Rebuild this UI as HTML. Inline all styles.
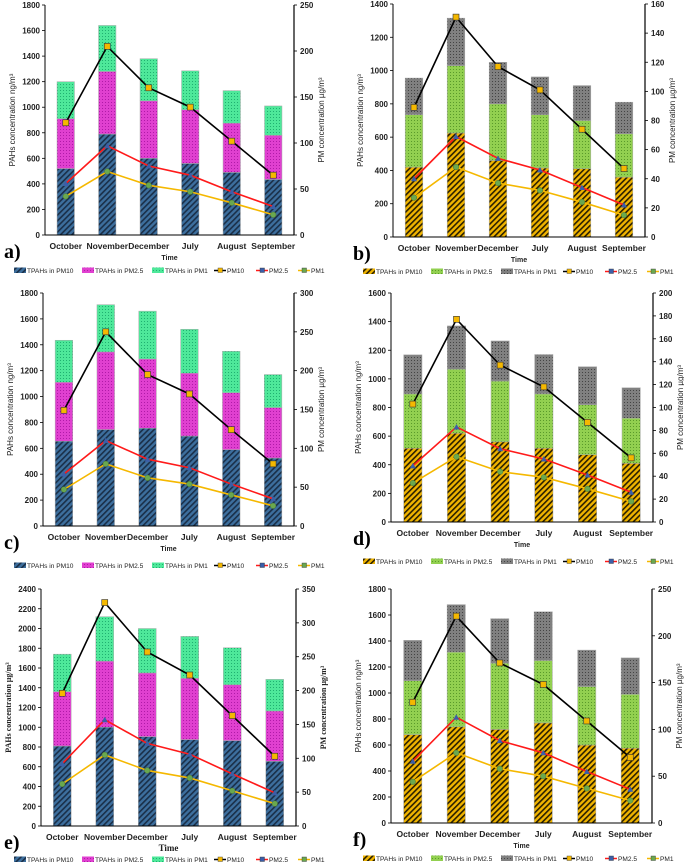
<!DOCTYPE html>
<html><head><meta charset="utf-8"><style>
html,body{margin:0;padding:0;background:#fff;}
svg{display:block;font-family:"Liberation Sans",sans-serif;}
</style></head><body>
<svg id="fig" width="684" height="865" viewBox="0 0 684 865" xmlns="http://www.w3.org/2000/svg">
<defs>
<pattern id="pBlue" patternUnits="userSpaceOnUse" width="4" height="4" patternTransform="rotate(45)"><rect width="4" height="4" fill="#3d6f9e"/><rect width="1.6" height="4" fill="#1a2f48"/></pattern>
<pattern id="pMag" patternUnits="userSpaceOnUse" width="3" height="3"><rect width="3" height="3" fill="#e040d0"/><rect width="1" height="1" fill="#b01aa8"/></pattern>
<pattern id="pTeal" patternUnits="userSpaceOnUse" width="3" height="3"><rect width="3" height="3" fill="#4ee89a"/><rect width="1" height="1" fill="#1fb070"/></pattern>
<pattern id="pOrange" patternUnits="userSpaceOnUse" width="4" height="4" patternTransform="rotate(45)"><rect width="4" height="4" fill="#f0b400"/><rect width="1.6" height="4" fill="#2a2000"/></pattern>
<pattern id="pLime" patternUnits="userSpaceOnUse" width="3" height="3"><rect width="3" height="3" fill="#92d050"/><rect width="1" height="1" fill="#5a9a2a"/></pattern>
<pattern id="pGray" patternUnits="userSpaceOnUse" width="3" height="3"><rect width="3" height="3" fill="#808080"/><rect width="1" height="1" fill="#444"/></pattern>
</defs>
</svg>
<script>
const months = ["October","November","December","July","August","September"];
// panel a
const aPM10b = [520,790,600,560,490,435];
const aPM25b = [910,1280,1050,980,875,780];
const aPM1b  = [1200,1640,1380,1285,1130,1010];
const aPM10 = [122,205,160,139,102,65];
const aPM25 = [56,97,75,65,47,31];
const aPM1  = [42,69,54,47,35,22];
// panel b
const bPM10b = [420,625,460,415,410,360];
const bPM25b = [735,1030,800,735,700,620];
const bPM1b  = [955,1315,1050,962,910,810];
const bPM10 = [89,151,117,101,74,47];
const bPM25 = [40,69,54,46,34,22];
const bPM1  = [27,48,37,32,24,15];
// panel c
const cPM10b = [655,745,755,695,590,525];
const cPM25b = [1110,1345,1290,1180,1030,915];
const cPM1b  = [1435,1710,1660,1520,1350,1170];
const cPM10 = [149,250,195,170,124,80];
const cPM25 = [67,110,86,75,54,35];
const cPM1  = [47,80,62,54,40,26];
// panel d
const dPM10b = [515,620,560,515,470,410];
const dPM25b = [895,1068,985,895,820,725];
const dPM1b  = [1168,1370,1265,1170,1085,938];
const dPM10 = [103,177,137,118,87,56];
const dPM25 = [49,83,64,55,41,26];
const dPM1  = [34,57,44,39,29,18];
// panel e
const ePM10b = [810,1000,905,875,865,655];
const ePM25b = [1360,1670,1550,1495,1430,1165];
const ePM1b  = [1740,2120,2000,1920,1805,1485];
const ePM10 = [196,330,257,223,163,103];
const ePM25 = [92,157,122,106,77,49];
const ePM1  = [62,105,82,71,52,33];
// panel f
const fPM10b = [680,740,720,770,600,575];
const fPM25b = [1095,1315,1230,1250,1050,990];
const fPM1b  = [1405,1680,1572,1625,1330,1270];
const fPM10 = [129,221,171,148,109,70];
const fPM25 = [66,113,88,75,55,36];
const fPM1  = [44,75,58,50,37,24];

const NS="http://www.w3.org/2000/svg";
const svg=document.getElementById('fig');
function mk(tag,attrs,parent,txt){const e=document.createElementNS(NS,tag);for(const k in attrs)e.setAttribute(k,attrs[k]);if(txt!==undefined)e.textContent=txt;(parent||svg).appendChild(e);return e;}

function panel(o){
  const g=mk('g',{});
  
  
  const {L,R,T,B,lmax,lstep,rmax,rstep}=o;
  const yL=v=>B-(v/lmax)*(B-T);
  const yR=v=>B-(v/rmax)*(B-T);
  const step=(R-L)/6;
  const xC=i=>L+step*(i+0.5);
  const fs=o.serif?'"Liberation Serif",serif':'"Liberation Sans",sans-serif';
  for(let v=0;v<=lmax;v+=lstep){
    const t=mk('text',{x:L-5,y:yL(v)+3,'text-anchor':'end','font-size':8,'font-weight':'bold',fill:'#222'},g,String(v));
    
    mk('line',{x1:L-3,x2:L,y1:yL(v),y2:yL(v),stroke:'#000','stroke-width':0.8},g);
  }
  for(let v=0;v<=rmax;v+=rstep){
    const t=mk('text',{x:R+6,y:yR(v)+3,'text-anchor':'start','font-size':8,'font-weight':'bold',fill:'#222'},g,String(v));
    
    mk('line',{x1:R,x2:R+3,y1:yR(v),y2:yR(v),stroke:'#000','stroke-width':0.8},g);
  }
  const bw=step*0.42;
  const fills=o.orange?['url(#pOrange)','url(#pLime)','url(#pGray)']:['url(#pBlue)','url(#pMag)','url(#pTeal)'];
  months.forEach((m,i)=>{
    const segs=[[0,o.s1[i]],[o.s1[i],o.s2[i]],[o.s2[i],o.s3[i]]];
    segs.forEach((s,k)=>{
      const r=mk('rect',{x:xC(i)-bw/2,y:yL(s[1]),width:bw,height:yL(s[0])-yL(s[1]),fill:fills[k],stroke:'#aaa','stroke-width':0.5},g);
      
      
    });
    const t=mk('text',{x:xC(i),y:B+14,'text-anchor':'middle','font-size':8.5,'font-weight':'bold',fill:'#222'},g,m);
    
  });
  mk('line',{x1:L,x2:L,y1:T,y2:B,stroke:'#000','stroke-width':1},g);
  mk('line',{x1:R,x2:R,y1:T,y2:B,stroke:'#000','stroke-width':1.2},g);
  mk('line',{x1:L,x2:R,y1:B,y2:B,stroke:'#000','stroke-width':1},g);
  const series=[[o.l1,'#000','sq','#f5b800'],[o.l2,'#ff1a1a','tri','#3b5ea8'],[o.l3,'#f5b800','dot','#6aa84f']];
  series.forEach(([d,col,mkr,mc],k)=>{
    const pts=d.map((v,i)=>xC(i)+','+yR(v)).join(' ');
    const pl=mk('polyline',{points:pts,fill:'none',stroke:col,'stroke-width':1.6},g);
    
    
    d.forEach((v,i)=>{
      const x=xC(i),y=yR(v);let e;
      if(mkr==='sq')e=mk('rect',{x:x-3,y:y-3,width:6,height:6,fill:mc,stroke:'#333','stroke-width':0.6},g);
      else if(mkr==='tri')e=mk('polygon',{points:`${x},${y-3} ${x-3},${y+2.5} ${x+3},${y+2.5}`,fill:mc},g);
      else e=mk('circle',{cx:x,cy:y,r:2.8,fill:mc,stroke:'#4a7a30','stroke-width':0.5},g);
      
      
    });
  });
  const lyt=(T+B)/2, lx=L-30;
  let t=mk('text',{x:lx,y:lyt,'text-anchor':'middle','font-size':8,fill:'#222','font-family':fs,'font-weight':o.serif?'bold':'normal',transform:`rotate(-90 ${lx} ${lyt})`},g,o.serif?'PAHs concentration µg/m³':'PAHs concentration ng/m³');
  
  const rx=R+30;
  t=mk('text',{x:rx,y:lyt,'text-anchor':'middle','font-size':8,fill:'#222','font-family':fs,'font-weight':o.serif?'bold':'normal',transform:`rotate(-90 ${rx} ${lyt})`},g,'PM concentration µg/m³');
  
  t=mk('text',{x:(L+R)/2,y:B+25,'text-anchor':'middle','font-size':o.serif?9:7,'font-weight':'bold',fill:'#222','font-family':fs},g,'Time');
  
  t=mk('text',{x:o.px,y:B+23,'font-size':20,'font-weight':'bold','font-family':'"Liberation Serif",serif',fill:'#000'},g,o.label+')');
  
  const ly=o.ly, lx0=o.px+10;
  const names=['TPAHs in PM10','TPAHs in PM2.5','TPAHs in PM1','PM10','PM2.5','PM1'];
  const offs=[0,68,138,200,242,284];
  names.forEach((n,k)=>{
    const x=lx0+offs[k];
    if(k<3){mk('rect',{x:x,y:ly-5.5,width:12,height:5.5,fill:fills[k]},g);}
    else{const s=series[k-3];mk('line',{x1:x,x2:x+12,y1:ly-2.5,y2:ly-2.5,stroke:s[1],'stroke-width':1.5},g);
      mk('rect',{x:x+4,y:ly-5,width:4.5,height:4.5,fill:s[3],stroke:'#333','stroke-width':0.4},g);}
    const tt=mk('text',{x:x+13,y:ly,'font-size':6.6,fill:'#222'},g,n);
    
  });
}
panel({label:'a',L:45,R:294,T:5,B:235,lmax:1800,lstep:200,rmax:250,rstep:50,s1:aPM10b,s2:aPM25b,s3:aPM1b,l1:aPM10,l2:aPM25,l3:aPM1,px:4,ly:273});
panel({label:'b',L:393,R:645,T:4,B:237,lmax:1400,lstep:200,rmax:160,rstep:20,s1:bPM10b,s2:bPM25b,s3:bPM1b,l1:bPM10,l2:bPM25,l3:bPM1,px:353,ly:274,orange:true});
panel({label:'c',L:43,R:294,T:293,B:526,lmax:1800,lstep:200,rmax:300,rstep:50,s1:cPM10b,s2:cPM25b,s3:cPM1b,l1:cPM10,l2:cPM25,l3:cPM1,px:4,ly:568});
panel({label:'d',L:391,R:653,T:293,B:522,lmax:1600,lstep:200,rmax:200,rstep:20,s1:dPM10b,s2:dPM25b,s3:dPM1b,l1:dPM10,l2:dPM25,l3:dPM1,px:353,ly:564,orange:true});
panel({label:'e',L:41,R:296,T:589,B:826,lmax:2400,lstep:200,rmax:350,rstep:50,s1:ePM10b,s2:ePM25b,s3:ePM1b,l1:ePM10,l2:ePM25,l3:ePM1,px:4,ly:862,serif:true});
panel({label:'f',L:391,R:652,T:589,B:823,lmax:1800,lstep:200,rmax:250,rstep:50,s1:fPM10b,s2:fPM25b,s3:fPM1b,l1:fPM10,l2:fPM25,l3:fPM1,px:353,ly:861,orange:true});
</script>
</body></html>
